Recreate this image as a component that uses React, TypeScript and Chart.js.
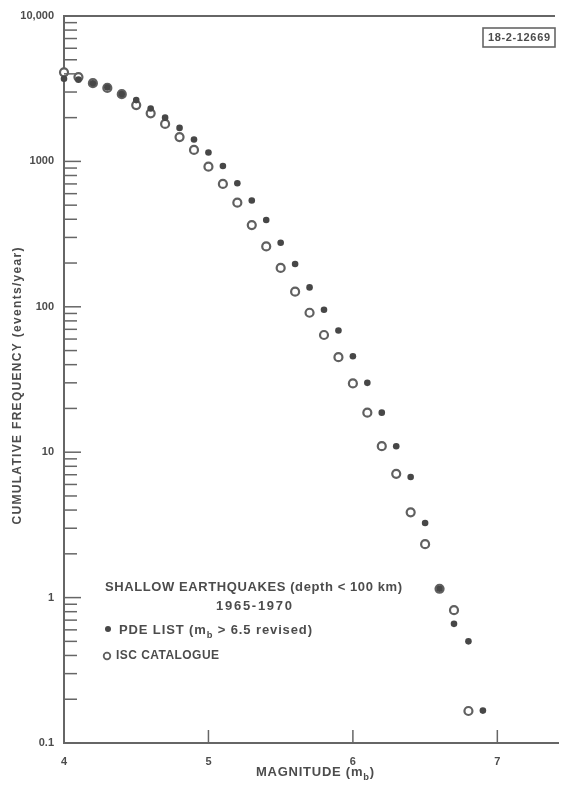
import React, { useEffect, useRef } from 'react';
import { Chart, registerables } from 'chart.js';

Chart.register(...registerables);

// ---- data ----
const iscMagnitudes = [4.0, 4.1, 4.2, 4.3, 4.4, 4.5, 4.6, 4.7, 4.8, 4.9, 5.0, 5.1, 5.2, 5.3, 5.4, 5.5, 5.6, 5.7, 5.8, 5.9, 6.0, 6.1, 6.2, 6.3, 6.4, 6.5, 6.6, 6.7, 6.8];
const iscFrequency = [4100, 3800, 3450, 3200, 2900, 2440, 2140, 1810, 1470, 1200, 920, 700, 520, 365, 260, 185, 127, 91, 64, 45, 29.7, 18.7, 11.0, 7.1, 3.86, 2.33, 1.15, 0.82, 0.166];

const pdeMagnitudes = [4.0, 4.1, 4.2, 4.3, 4.4, 4.5, 4.6, 4.7, 4.8, 4.9, 5.0, 5.1, 5.2, 5.3, 5.4, 5.5, 5.6, 5.7, 5.8, 5.9, 6.0, 6.1, 6.2, 6.3, 6.4, 6.5, 6.6, 6.7, 6.8, 6.9];
const pdeFrequency = [3700, 3650, 3450, 3220, 2900, 2640, 2310, 2000, 1700, 1415, 1150, 930, 708, 538, 395, 276, 197, 136, 95.5, 68.7, 45.7, 30.0, 18.7, 11.0, 6.76, 3.26, 1.15, 0.66, 0.5, 0.167];

const xTickValues = [4, 5, 6, 7];
const xTickLabels = ['4', '5', '6', '7'];
const yTickValues = [0.1, 1, 10, 100, 1000, 10000];
const yTickLabels = ['0.1', '1', '10', '100', '1000', '10,000'];

const xTitle = 'MAGNITUDE (m';
const xTitleSub = 'b';
const xTitleEnd = ')';
const yTitle = 'CUMULATIVE FREQUENCY (events/year)';
const legendLine1 = 'SHALLOW EARTHQUAKES (depth < 100 km)';
const legendLine2 = '1965-1970';
const legendPde = ['PDE LIST (m', 'b', ' > 6.5 revised)'];
const legendIsc = 'ISC CATALOGUE';
const figureId = '18-2-12669';

const FONT = '"Liberation Sans", Arial, sans-serif';
const INK = '#4c4c4c';
const AXIS = '#666666';

type Part = { text: string; sub?: boolean };

function drawParts(ctx: CanvasRenderingContext2D, parts: Part[], x: number, y: number, target: number, size: number, align: 'left' | 'center') {
  ctx.save();
  (ctx as any).letterSpacing = '0px';
  const widths = parts.map((p) => {
    ctx.font = `bold ${p.sub ? size * 0.72 : size}px ${FONT}`;
    return ctx.measureText(p.text).width;
  });
  const chars = parts.reduce((s, p) => s + p.text.length, 0);
  const natural = widths.reduce((a, b) => a + b, 0);
  const sp = Math.max(0, (target - natural) / Math.max(1, chars - 1));
  let cx = align === 'center' ? x - target / 2 : x;
  ctx.textBaseline = 'middle';
  ctx.textAlign = 'left';
  ctx.fillStyle = INK;
  parts.forEach((p, i) => {
    ctx.font = `bold ${p.sub ? size * 0.72 : size}px ${FONT}`;
    (ctx as any).letterSpacing = `${sp}px`;
    ctx.fillText(p.text, cx, y + (p.sub ? size * 0.4 : 0));
    cx += widths[i] + sp * p.text.length;
  });
  ctx.restore();
}

const decor = {
  id: 'decor',
  afterDraw(chart: any) {
    const { ctx, chartArea, scales } = chart;
    const xs = scales.x;
    const ys = scales.y;
    ctx.save();
    ctx.strokeStyle = AXIS;
    ctx.lineWidth = 1.5;
    // inward y ticks (log decades with minor ticks)
    for (let e = -1; e <= 4; e++) {
      for (let m = 1; m <= 9; m++) {
        const v = m * Math.pow(10, e);
        if (v > 10000.0001) continue;
        const py = ys.getPixelForValue(v);
        const len = m === 1 ? 17 : 13;
        ctx.beginPath();
        ctx.moveTo(chartArea.left, py);
        ctx.lineTo(chartArea.left + len, py);
        ctx.stroke();
      }
    }
    // inward x ticks
    xTickValues.slice(1).forEach((v) => {
      const px = xs.getPixelForValue(v);
      ctx.beginPath();
      ctx.moveTo(px, chartArea.bottom);
      ctx.lineTo(px, chartArea.bottom - 13);
      ctx.stroke();
    });
    // top frame line
    ctx.lineWidth = 2;
    ctx.beginPath();
    ctx.moveTo(chartArea.left, chartArea.top);
    ctx.lineTo(chartArea.right - 3, chartArea.top);
    ctx.stroke();
    // figure id box
    ctx.lineWidth = 1.6;
    ctx.strokeRect(483, 28, 72, 19);
    ctx.restore();

    drawParts(ctx, [{ text: figureId }], 519, 37.5, 62, 11, 'center');

    // legend block
    drawParts(ctx, [{ text: legendLine1 }], 105, 587, 297, 13, 'left');
    drawParts(ctx, [{ text: legendLine2 }], 254, 606, 76, 13, 'center');
    ctx.save();
    ctx.fillStyle = '#474747';
    ctx.beginPath();
    ctx.arc(108, 629, 3, 0, Math.PI * 2);
    ctx.fill();
    ctx.strokeStyle = '#606060';
    ctx.lineWidth = 1.8;
    ctx.beginPath();
    ctx.arc(107, 656, 3.3, 0, Math.PI * 2);
    ctx.stroke();
    ctx.restore();
    drawParts(ctx, legendPde.map((t, i) => ({ text: t, sub: i === 1 })), 119, 630, 193, 13, 'left');
    drawParts(ctx, [{ text: legendIsc }], 116, 656, 103, 12, 'left');

    // axis titles
    drawParts(ctx, [{ text: xTitle }, { text: xTitleSub, sub: true }, { text: xTitleEnd }], 256, 772, 118, 13, 'left');
    ctx.save();
    ctx.translate(18, 386);
    ctx.rotate(-Math.PI / 2);
    drawParts(ctx, [{ text: yTitle }], 0, 0, 277, 12, 'center');
    ctx.restore();
  },
};

export default function App() {
  const ref = useRef<HTMLCanvasElement | null>(null);
  useEffect(() => {
    if (!ref.current) return;
    const chart = new Chart(ref.current, {
      type: 'scatter',
      data: {
        datasets: [
          {
            label: 'PDE LIST',
            data: pdeMagnitudes.map((m, i) => ({ x: m, y: pdeFrequency[i] })),
            pointRadius: 3.3,
            pointBackgroundColor: '#474747',
            pointBorderWidth: 0,
            clip: false as any,
          },
          {
            label: 'ISC CATALOGUE',
            data: iscMagnitudes.map((m, i) => ({ x: m, y: iscFrequency[i] })),
            pointRadius: 4,
            pointBackgroundColor: '#ffffff',
            pointBorderColor: '#606060',
            pointBorderWidth: 2.2,
            clip: false as any,
          },
        ],
      },
      options: {
        animation: false,
        responsive: false,
        devicePixelRatio: 1,
        events: [],
        layout: { padding: { top: 16, right: 11, left: 0, bottom: 0 } },
        plugins: { legend: { display: false }, tooltip: { enabled: false } },
        scales: {
          x: {
            type: 'linear',
            min: 4,
            max: 7.42,
            grid: { display: false },
            border: { display: true, color: AXIS, width: 2 },
            afterBuildTicks: (s: any) => {
              s.ticks = xTickValues.map((v) => ({ value: v }));
            },
            afterFit: (s: any) => {
              s.height = 42;
            },
            ticks: {
              autoSkip: false,
              maxRotation: 0,
              padding: 4,
              color: INK,
              font: { family: FONT, size: 11, weight: 'bold' },
              callback: (v: any) => {
                const i = xTickValues.indexOf(Number(v));
                return i >= 0 ? xTickLabels[i] : '';
              },
            },
          },
          y: {
            type: 'logarithmic',
            min: 0.1,
            max: 10000,
            grid: { display: false },
            border: { display: true, color: AXIS, width: 2 },
            afterBuildTicks: (s: any) => {
              s.ticks = yTickValues.map((v) => ({ value: v }));
            },
            afterFit: (s: any) => {
              s.width = 64;
            },
            ticks: {
              autoSkip: false,
              padding: 2,
              color: INK,
              font: { family: FONT, size: 11, weight: 'bold' },
              callback: (v: any) => {
                const i = yTickValues.findIndex((t) => Math.abs(Math.log10(t) - Math.log10(Number(v))) < 1e-6);
                return i >= 0 ? yTickLabels[i] : '';
              },
            },
          },
        },
      } as any,
      plugins: [decor],
    });
    return () => chart.destroy();
  }, []);
  return (
    <div style={{ position: 'absolute', left: 0, top: 0, width: 569, height: 785, background: '#fff' }}>
      <canvas ref={ref} width={569} height={785} style={{ display: 'block', width: 569, height: 785 }} />
    </div>
  );
}
